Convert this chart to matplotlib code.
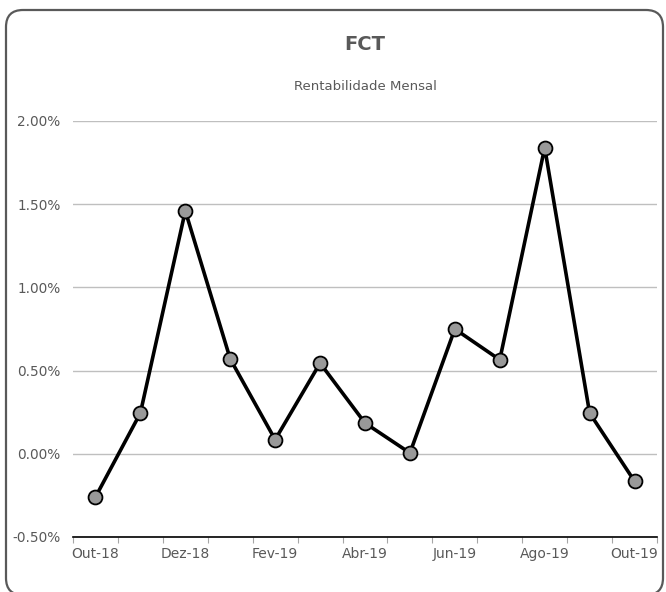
import numpy as np
import matplotlib.pyplot as plt
from matplotlib.patches import FancyBboxPatch

months = ['Out-18', 'Nov-18', 'Dez-18', 'Jan-19', 'Fev-19', 'Mar-19', 'Abr-19',
          'Mai-19', 'Jun-19', 'Jul-19', 'Ago-19', 'Set-19', 'Out-19']
rent = [-0.26, 0.245, 1.46, 0.57, 0.085, 0.545, 0.185, 0.005, 0.75, 0.565, 1.84, 0.245, -0.165]
yticks = [-0.5, 0.0, 0.5, 1.0, 1.5, 2.0]

txt = '#595959'
plt.rcParams['font.family'] = 'DejaVu Sans'

W, H = 666, 592
fig = plt.figure(figsize=(W / 100, H / 100), dpi=100)

# rounded frame, drawn in pixel coordinates (runs off the bottom like the original)
bg = fig.add_axes([0, 0, 1, 1])
bg.set_xlim(0, W)
bg.set_ylim(0, H)
bg.axis('off')
frame = FancyBboxPatch((6, -3), 657, 585,
                       boxstyle='round,pad=0,rounding_size=17',
                       fill=False, edgecolor='#595959', linewidth=1.6)
bg.add_patch(frame)

ax = fig.add_axes([73 / W, 1 - 537 / H, 584 / W, 416 / H])
x = np.arange(len(months))
ax.plot(x, rent, color='black', lw=2.6, marker='o', markersize=10,
        markerfacecolor='#999999', markeredgecolor='black', markeredgewidth=1.3,
        zorder=3, clip_on=False)

ax.set_xlim(-0.5, len(months) - 0.5)
ax.set_ylim(-0.5, 2.0)
ax.set_yticks(yticks)
ax.set_yticklabels(['{:.2f}%'.format(v) for v in yticks])
ax.grid(axis='y', color='#bfbfbf', lw=1)
ax.set_axisbelow(True)

# category labels every 2 months, tick marks between categories
ax.set_xticks(x[::2])
ax.set_xticklabels(months[::2])
ax.set_xticks(np.arange(-0.5, len(months)), minor=True)
ax.tick_params(axis='x', which='major', length=0, pad=7, labelsize=10, colors=txt)
ax.tick_params(axis='x', which='minor', length=4, color='#a6a6a6', width=0.8)
ax.tick_params(axis='y', length=0, pad=9, labelsize=9.8, colors=txt)

for s in ['top', 'right', 'left']:
    ax.spines[s].set_visible(False)
ax.spines['bottom'].set_color('black')
ax.spines['bottom'].set_linewidth(1.2)

fig.text(365 / W, 1 - 45 / H, 'FCT', ha='center', va='center',
         fontsize=14, fontweight='bold', color=txt)
fig.text(365 / W, 1 - 86 / H, 'Rentabilidade Mensal', ha='center', va='center',
         fontsize=9.5, color=txt)

fig.savefig('out.png', dpi=100)
